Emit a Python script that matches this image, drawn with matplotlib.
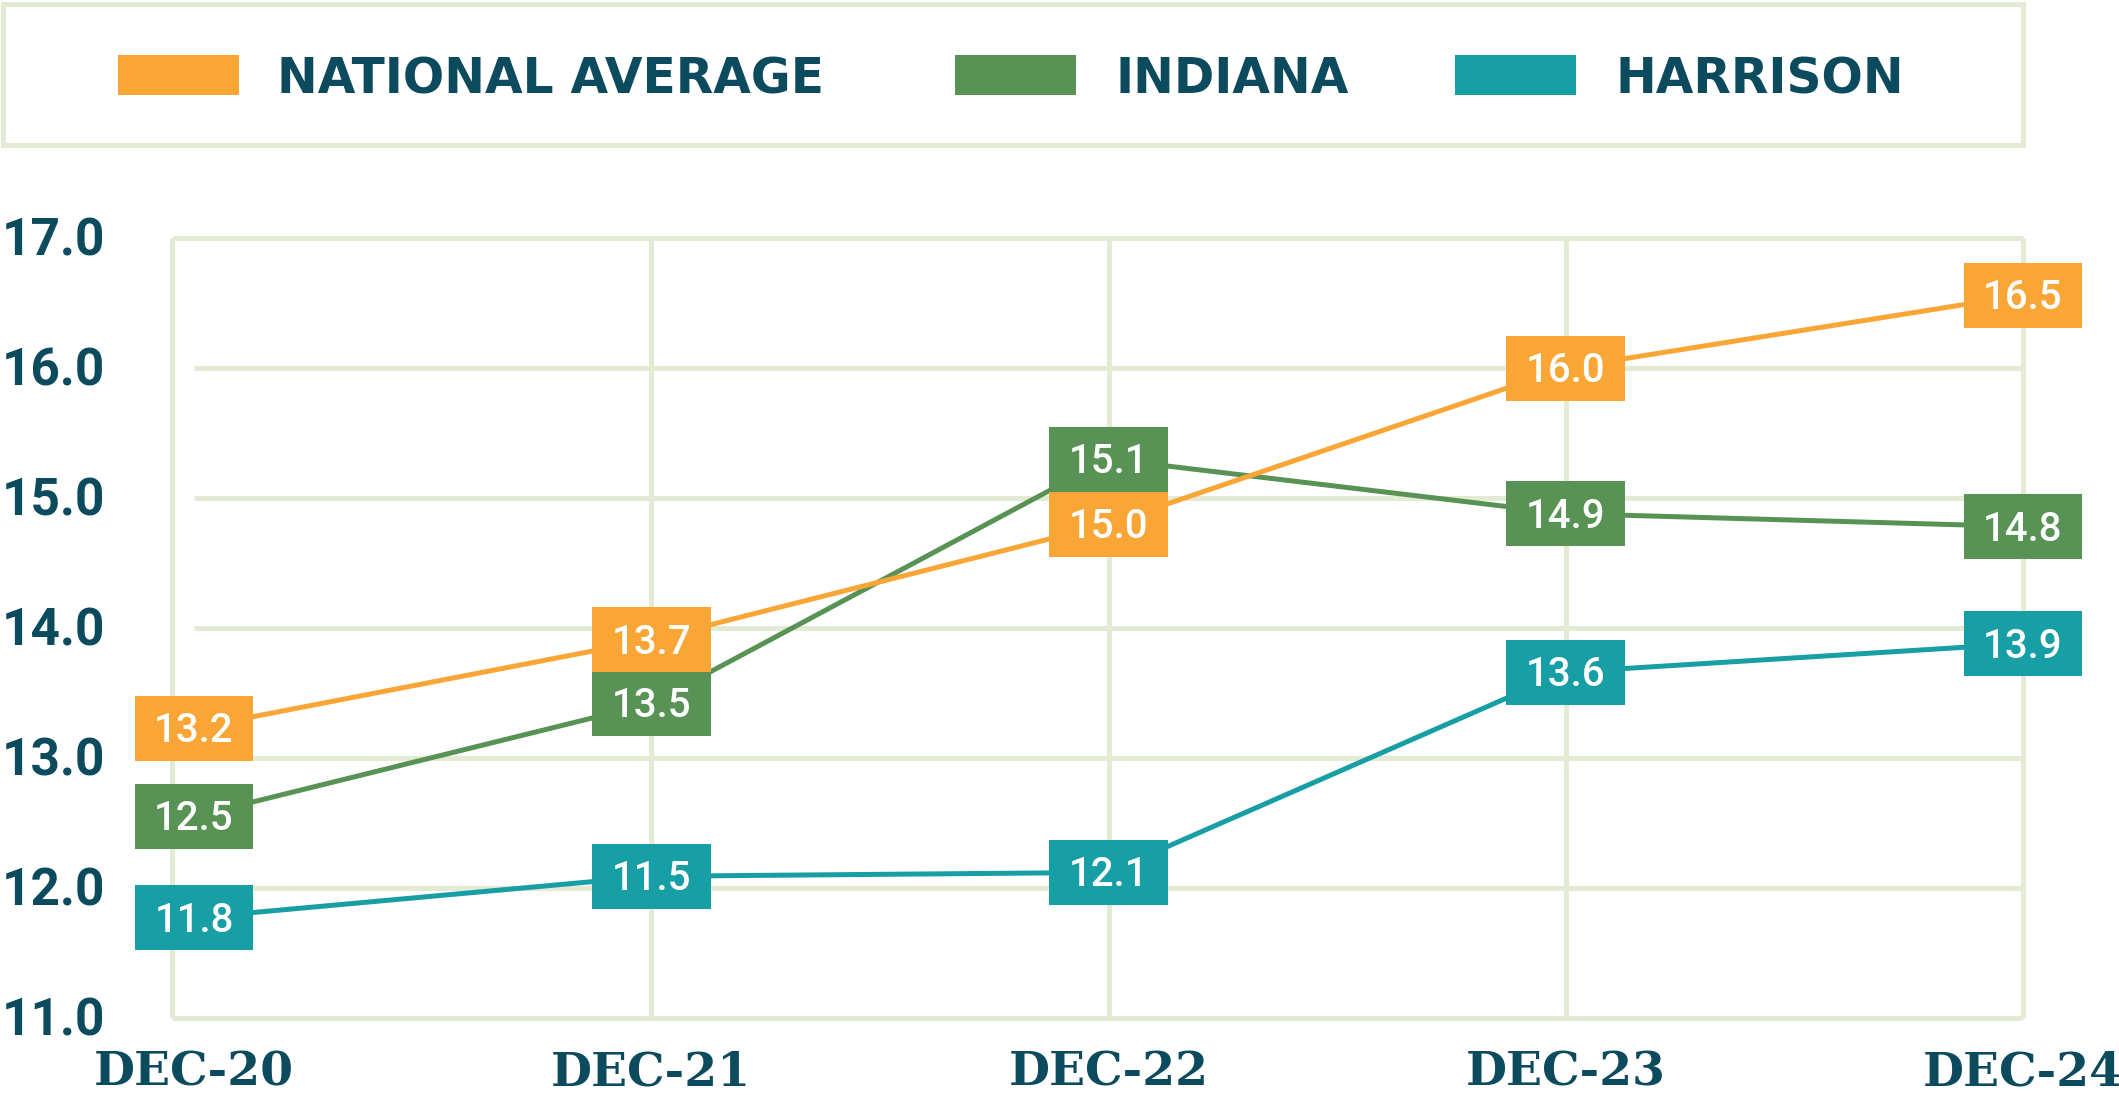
import matplotlib
matplotlib.use("Agg")
import matplotlib.pyplot as plt
from matplotlib.patches import Rectangle
from matplotlib.transforms import blended_transform_factory, offset_copy

# ---- data ----
categories = ["DEC-20", "DEC-21", "DEC-22", "DEC-23", "DEC-24"]
series_names = ["NATIONAL AVERAGE", "INDIANA", "HARRISON"]
# plotted positions
national_pos = [13.23, 13.91, 14.80, 16.00, 16.56]
indiana_pos = [12.55, 13.42, 15.30, 14.88, 14.78]
harrison_pos = [11.77, 12.09, 12.12, 13.66, 13.88]
# label texts shown in the boxes
national_labels = ["13.2", "13.7", "15.0", "16.0", "16.5"]
indiana_labels = ["12.5", "13.5", "15.1", "14.9", "14.8"]
harrison_labels = ["11.8", "11.5", "12.1", "13.6", "13.9"]
y_ticks = [11.0, 12.0, 13.0, 14.0, 15.0, 16.0, 17.0]

# ---- style ----
ORANGE = "#F9A636"
GREEN = "#589355"
TEAL = "#189EA5"
NAVY = "#0C4A5E"
GRID = "#E3EBD4"
W, H = 2119, 1095

fig = plt.figure(figsize=(W / 100, H / 100), dpi=100)
fig.patch.set_facecolor("white")

left_px, right_px, top_px, bot_px = 171.6, 2023, 238, 1018
ax = fig.add_axes([left_px / W, 1 - bot_px / H, (right_px - left_px) / W, (bot_px - top_px) / H])
xmin = -0.049
ax.set_xlim(xmin, len(categories) - 1)
ax.set_ylim(y_ticks[0], y_ticks[-1])
ax.axis("off")

glw = 3.6
x_idx = list(range(len(categories)))
# horizontal grid lines
ax.hlines(y_ticks[1:-1], 0, x_idx[-1], color=GRID, lw=glw, zorder=1, clip_on=False)
# frame top/bottom
ax.hlines([y_ticks[0], y_ticks[-1]], xmin, x_idx[-1], color=GRID, lw=glw, zorder=1, clip_on=False)
# vertical lines
ax.vlines([xmin] + x_idx[1:], y_ticks[0], y_ticks[-1], color=GRID, lw=glw, zorder=1, clip_on=False)

series = [
    (harrison_pos, harrison_labels, TEAL),
    (indiana_pos, indiana_labels, GREEN),
    (national_pos, national_labels, ORANGE),
]
bw, bh = 0.26, 0.5
for pos, labs, col in series:
    ax.plot(x_idx, pos, color=col, lw=3.6, zorder=3, clip_on=False, solid_capstyle="butt")
for pos, labs, col in series:
    for i, (v, t) in enumerate(zip(pos, labs)):
        ax.add_patch(Rectangle((i - bw / 2, v - bh / 2), bw, bh, facecolor=col,
                               edgecolor="none", zorder=5, clip_on=False))
        tr = offset_copy(ax.transData, fig=fig, x=0, y=-14, units="dots")
        ax.text(i, v, t, transform=tr, ha="center", va="baseline", color="white",
                fontsize=29, fontfamily="Roboto", fontweight="medium", zorder=6)

# y tick labels
btr = blended_transform_factory(fig.transFigure, ax.transData)
ytr = offset_copy(btr, fig=fig, x=0, y=-17.5, units="dots")
for yv in y_ticks:
    ax.text(2 / W, yv, f"{yv:.1f}", transform=ytr, ha="left", va="baseline",
            color=NAVY, fontsize=37, fontfamily="Roboto", fontweight="bold")

# x tick labels
xtr = blended_transform_factory(ax.transData, fig.transFigure)
for i, c in enumerate(categories):
    ax.text(i, 1 - 1085 / H, c, transform=xtr, ha="center", va="baseline",
            color=NAVY, fontsize=34, fontfamily="DejaVu Serif", fontweight="bold")

# legend overlay in pixel coordinates
ov = fig.add_axes([0, 0, 1, 1], zorder=-1)
ov.set_xlim(0, W)
ov.set_ylim(H, 0)
ov.axis("off")
ov.add_patch(Rectangle((3, 4), 2020, 141, facecolor="white", edgecolor=GRID, lw=glw))
leg_rect_x = [118, 955, 1455]
leg_text_x = [277, 1115, 1615]
for name, col, rx, tx in zip(series_names, [ORANGE, GREEN, TEAL], leg_rect_x, leg_text_x):
    ov.add_patch(Rectangle((rx, 55), 121, 40, facecolor=col, edgecolor="none"))
    ov.text(tx, 93, name, ha="left", va="baseline", color=NAVY, fontsize=35,
            fontfamily="DejaVu Sans", fontweight="bold")

fig.savefig("out.png", dpi=100, facecolor="white")
